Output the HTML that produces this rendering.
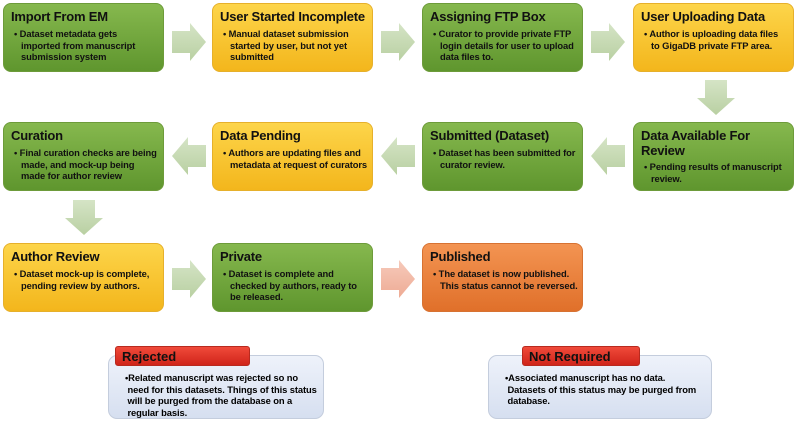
<!DOCTYPE html>
<html><head><meta charset="utf-8"><style>
body{margin:0;width:800px;height:424px;background:#fff;position:relative;overflow:hidden;font-family:"Liberation Sans",sans-serif;font-weight:bold}
.b{position:absolute;width:161px;height:69px;border-radius:8px;box-sizing:border-box;padding:5px 7px;border:1px solid}
.g{background:linear-gradient(#86b84e,#5f962e);border-color:#6d9b3a;color:#111}
.y{background:linear-gradient(#fdd54a,#f3b61c);border-color:#e6b02b;color:#111}
.o{background:linear-gradient(#f39452,#e0702a);border-color:#d77232;color:#111}
.t{font-size:13px;margin-bottom:4px;white-space:nowrap;letter-spacing:-0.2px}
.d{font-size:9.4px;line-height:11.5px;padding-left:10px;text-indent:-7px;letter-spacing:-0.1px;white-space:nowrap}
.a{position:absolute}
.n{position:absolute;background:linear-gradient(#eef2fa,#d6dff0);border:1.5px solid #c4cddd;border-radius:9px;box-sizing:border-box;padding:16px 4px 0 16px;font-size:9.4px;line-height:11.5px;letter-spacing:-0.1px;white-space:nowrap}
.r{position:absolute;height:20px;background:linear-gradient(#f04a3a,#d0251a);border:1px solid #b82a1f;border-radius:3px;box-sizing:border-box;font-size:13px;color:#111;padding:2px 6px}
</style></head><body>
<div class="b g" style="left:3px;top:3px"><div class="t">Import From EM</div><div class="d">• Dataset metadata gets<br>imported from manuscript<br>submission system</div></div>
<div class="b y" style="left:212px;top:3px"><div class="t">User Started Incomplete</div><div class="d">• Manual dataset submission<br>started by user, but not yet<br>submitted</div></div>
<div class="b g" style="left:422px;top:3px"><div class="t">Assigning FTP Box</div><div class="d">• Curator to provide private FTP<br>login details for user to upload<br>data files to.</div></div>
<div class="b y" style="left:633px;top:3px"><div class="t">User Uploading Data</div><div class="d">• Author is uploading data files<br>to GigaDB private FTP area.</div></div>

<div class="b g" style="left:3px;top:122px"><div class="t">Curation</div><div class="d">• Final curation checks are being<br>made, and mock-up being<br>made for author review</div></div>
<div class="b y" style="left:212px;top:122px"><div class="t">Data Pending</div><div class="d">• Authors are updating files and<br>metadata at request of curators</div></div>
<div class="b g" style="left:422px;top:122px"><div class="t">Submitted (Dataset)</div><div class="d">• Dataset has been submitted for<br>curator review.</div></div>
<div class="b g" style="left:633px;top:122px"><div class="t" style="line-height:15px;margin-bottom:3px">Data Available For<br>Review</div><div class="d">• Pending results of manuscript<br>review.</div></div>

<div class="b y" style="left:3px;top:243px"><div class="t">Author Review</div><div class="d">• Dataset mock-up is complete,<br>pending review by authors.</div></div>
<div class="b g" style="left:212px;top:243px"><div class="t">Private</div><div class="d">• Dataset is complete and<br>checked by authors, ready to<br>be released.</div></div>
<div class="b o" style="left:422px;top:243px"><div class="t">Published</div><div class="d">• The dataset is now published.<br>This status cannot be reversed.</div></div>

<svg class="a" style="left:0;top:0" width="800" height="424">
<defs><linearGradient id="ag" x1="0" y1="0" x2="0" y2="1"><stop offset="0" stop-color="#d5e4c6"/><stop offset="1" stop-color="#b9d0a2"/></linearGradient>
<linearGradient id="ap" x1="0" y1="0" x2="0" y2="1"><stop offset="0" stop-color="#f6cabb"/><stop offset="1" stop-color="#eeab94"/></linearGradient></defs>
<g fill="url(#ag)">
<polygon points="172,31 190,31 190,23 206,42 190,61 190,53 172,53"/>
<polygon points="381,31 399,31 399,23 415,42 399,61 399,53 381,53"/>
<polygon points="591,31 609,31 609,23 625,42 609,61 609,53 591,53"/>
<polygon points="705,80 705,98 697,98 716,115 735,98 727,98 727,80"/>
<polygon points="625,145 607,145 607,137 591,156 607,175 607,167 625,167"/>
<polygon points="415,145 397,145 397,137 381,156 397,175 397,167 415,167"/>
<polygon points="206,145 188,145 188,137 172,156 188,175 188,167 206,167"/>
<polygon points="73,200 73,218 65,218 84,235 103,218 95,218 95,200"/>
<polygon points="172,268 190,268 190,260 206,279 190,298 190,290 172,290"/>
</g>
<polygon fill="url(#ap)" points="381,268 399,268 399,260 415,279 399,298 399,290 381,290"/>
</svg>

<div class="n" style="left:108px;top:355px;width:216px;height:64px">•Related manuscript was rejected so no<br>&nbsp;need for this datasets. Things of this status<br>&nbsp;will be purged from the database on a<br>&nbsp;regular basis.</div>
<div class="r" style="left:115px;top:346px;width:135px">Rejected</div>
<div class="n" style="left:488px;top:355px;width:224px;height:64px">•Associated manuscript has no data.<br>&nbsp;Datasets of this status may be purged from<br>&nbsp;database.</div>
<div class="r" style="left:522px;top:346px;width:118px">Not Required</div>
</body></html>
